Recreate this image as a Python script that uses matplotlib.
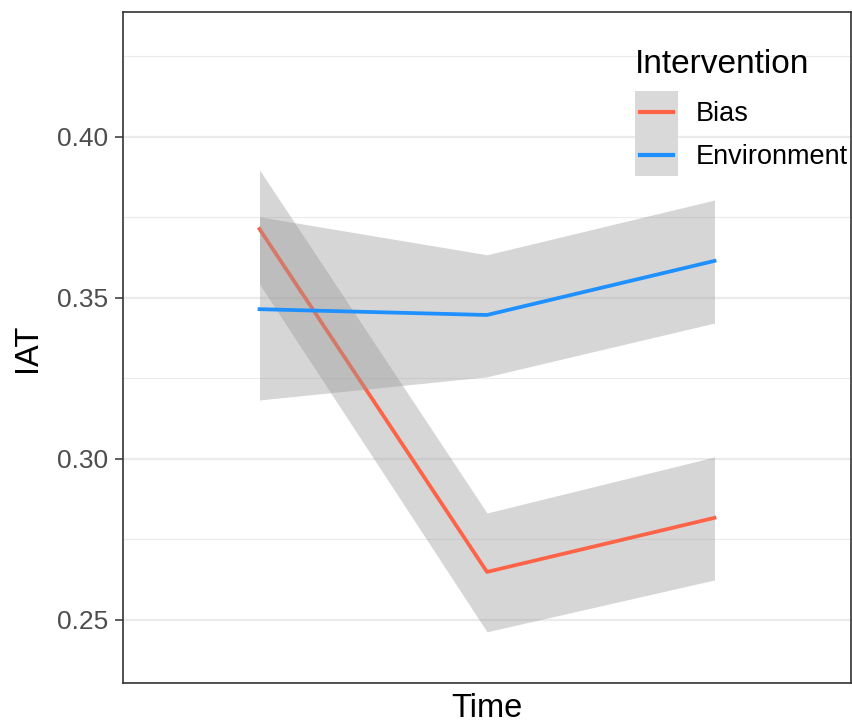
import matplotlib
matplotlib.use("Agg")
import matplotlib.pyplot as plt
from matplotlib.patches import Rectangle
from matplotlib.lines import Line2D

plt.rcParams['font.family'] = ['Liberation Sans', 'DejaVu Sans']

# data
time_points = [1, 2, 3]
bias_mean = [0.3714, 0.2649, 0.2817]
bias_low = [0.3543, 0.2463, 0.2624]
bias_high = [0.3898, 0.2832, 0.3006]
env_mean = [0.3465, 0.3447, 0.3615]
env_low = [0.3183, 0.3255, 0.3422]
env_high = [0.3752, 0.3634, 0.3804]
groups = ["Bias", "Environment"]
colors = ["#FF6347", "#1E90FF"]
yticks = [0.25, 0.30, 0.35, 0.40]
yminor = [0.275, 0.325, 0.375, 0.425]


class KeyHandler:
    # ggplot style key: grey box with a short coloured line
    def legend_artist(self, legend, orig_handle, fontsize, handlebox):
        x0, y0 = -handlebox.xdescent, -handlebox.ydescent
        w, h = handlebox.width, handlebox.height
        tr = handlebox.get_transform()
        rect = Rectangle((x0, y0), w, h, facecolor="#D9D9D9", edgecolor="none", transform=tr)
        line = Line2D([x0 + 0.12 * w, x0 + 0.88 * w], [y0 + h / 2, y0 + h / 2],
                      color=orig_handle.get_color(), lw=3, transform=tr)
        handlebox.add_artist(rect)
        handlebox.add_artist(line)
        return line


fig = plt.figure(figsize=(8.53, 7.23), dpi=100)
ax = fig.add_axes([123/853, 40/723, 728/853, 671/723])

ribbon_col = "#999999"
ax.fill_between(time_points, bias_low, bias_high, color=ribbon_col, alpha=0.4, lw=0, zorder=2)
l1, = ax.plot(time_points, bias_mean, color=colors[0], lw=2.7, zorder=3)
ax.fill_between(time_points, env_low, env_high, color=ribbon_col, alpha=0.4, lw=0, zorder=4)
l2, = ax.plot(time_points, env_mean, color=colors[1], lw=2.7, zorder=5)

ax.set_xlim(0.4, 3.6)
ax.set_ylim(0.2304, 0.4388)
ax.set_xticks([])
ax.set_yticks(yticks)
ax.set_yticklabels(["%.2f" % v for v in yticks])
ax.set_yticks(yminor, minor=True)
ax.tick_params(axis='y', which='major', length=5.5, width=1.1, color="#333333",
               labelsize=19, labelcolor="#4D4D4D", pad=5)
ax.tick_params(axis='y', which='minor', length=0)
ax.grid(axis='y', which='major', color="#EBEBEB", lw=1.6, zorder=0)
ax.grid(axis='y', which='minor', color="#EBEBEB", lw=0.8, zorder=0)
ax.set_axisbelow(True)
for s in ax.spines.values():
    s.set_color("#333333")
    s.set_linewidth(1.2)

ax.set_xlabel("Time", fontsize=23.5, labelpad=7)
ax.set_ylabel("IAT", fontsize=23.5, labelpad=10)

leg = ax.legend([l1, l2], groups, title="Intervention", loc='upper left',
                bbox_to_anchor=(635/853, 1 - 49/723), bbox_transform=fig.transFigure,
                frameon=False, fontsize=19.5, title_fontsize=24,
                handlelength=1.6, handleheight=2.04, labelspacing=0,
                handletextpad=0.63, borderpad=0, borderaxespad=0,
                alignment='left', handler_map={Line2D: KeyHandler()})
leg._legend_box.sep = 8
leg.set_zorder(10)

fig.savefig("out.png", dpi=100)
